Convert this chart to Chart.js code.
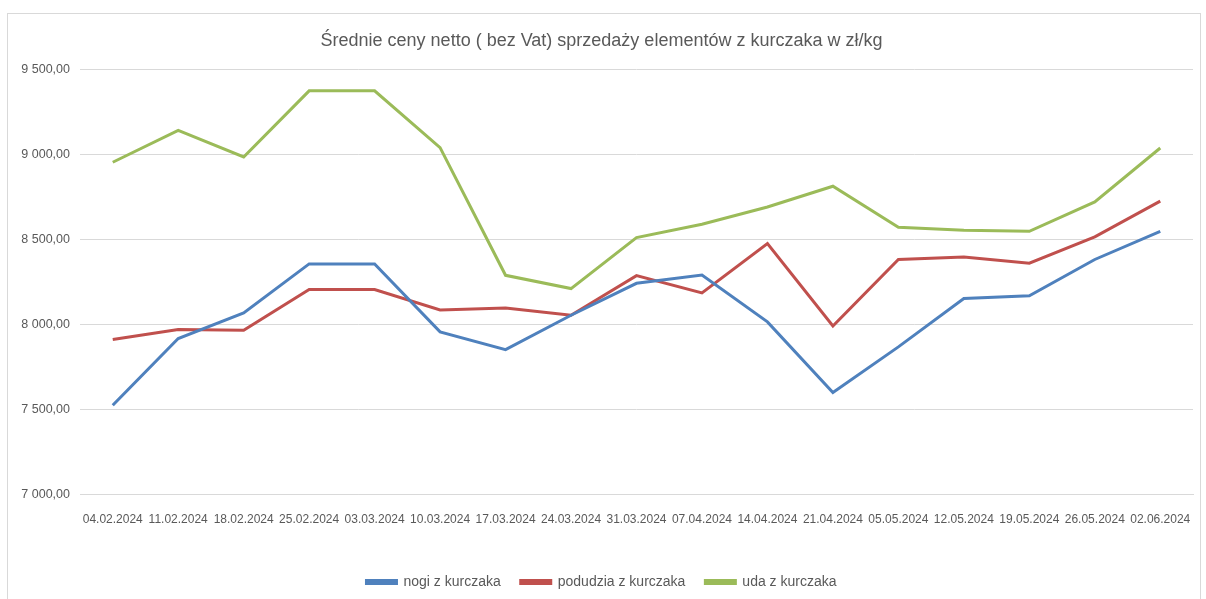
<!DOCTYPE html>
<html>
<head>
<meta charset="utf-8">
<script src="https://cdn.jsdelivr.net/npm/chart.js@4"></script>
<style>
  html, body { margin: 0; padding: 0; background: #fff; overflow: hidden; }
  #ramka { position: absolute; left: 7px; top: 13px; width: 1192px; height: 620px; border: 1px solid #d9d9d9; }
  #wykres { position: absolute; left: 0; top: 0; }
</style>
</head>
<body>
<div id="ramka"></div>
<canvas id="wykres" width="1206" height="599"></canvas>
<script>
// Daty notowań
const daty = ['04.02.2024', '11.02.2024', '18.02.2024', '25.02.2024', '03.03.2024', '10.03.2024',
  '17.03.2024', '24.03.2024', '31.03.2024', '07.04.2024', '14.04.2024', '21.04.2024',
  '05.05.2024', '12.05.2024', '19.05.2024', '26.05.2024', '02.06.2024'];

// Ceny w zł/kg
const nogi = [7526, 7918, 8069, 8357, 8357, 7957, 7853, 8055, 8243, 8292, 8016, 7600, 7869, 8153, 8169, 8383, 8549];
const podudzia = [7912, 7971, 7967, 8206, 8206, 8086, 8098, 8055, 8288, 8186, 8477, 7992, 8383, 8398, 8361, 8516, 8726];
const uda = [8955, 9143, 8986, 9375, 9375, 9041, 8290, 8212, 8512, 8590, 8692, 8814, 8573, 8555, 8549, 8722, 9039];

const nazwySerii = ['nogi z kurczaka', 'podudzia z kurczaka', 'uda z kurczaka'];
const kolory = ['#4f81bd', '#c0504d', '#9bbb59'];

const szary = '#595959';
const czcionka = "'Liberation Sans', Arial, sans-serif";

// format "9 500,00"
function formatZl(v) {
    const tys = Math.floor(v / 1000);
    const reszta = String(v % 1000).padStart(3, '0');
    return (tys > 0 ? tys + ' ' + reszta : String(v)) + ',00';
}

const serie = [nogi, podudzia, uda].map((dane, i) => ({
    label: nazwySerii[i],
    data: dane,
    borderColor: kolory[i],
    backgroundColor: kolory[i],
    borderWidth: 3,
    pointRadius: 0,
    tension: 0
}));

new Chart(document.getElementById('wykres'), {
    type: 'line',
    data: { labels: daty, datasets: serie },
    options: {
        responsive: false,
        animation: false,
        layout: { padding: { left: 10, right: 13, top: 0, bottom: 0 } },
        plugins: {
            title: {
                display: true,
                text: 'Średnie ceny netto ( bez Vat) sprzedaży elementów z kurczaka w zł/kg',
                color: szary,
                font: { family: czcionka, size: 18, weight: 'normal' },
                padding: { top: 30, bottom: 18 }
            },
            legend: {
                position: 'bottom',
                labels: {
                    color: szary,
                    font: { family: czcionka, size: 14 },
                    boxWidth: 30,
                    boxHeight: 3,
                    padding: 20
                }
            },
            tooltip: { enabled: false }
        },
        scales: {
            x: {
                offset: true,
                grid: { display: false },
                border: { color: '#d9d9d9' },
                ticks: {
                    color: szary,
                    font: { family: czcionka, size: 12 },
                    maxRotation: 0,
                    autoSkip: false,
                    padding: 10
                },
                afterFit: scale => { scale.height += 18; }
            },
            y: {
                min: 7000,
                max: 9500,
                grid: { color: '#d9d9d9', drawTicks: false },
                border: { display: false },
                ticks: {
                    stepSize: 500,
                    color: szary,
                    font: { family: czcionka, size: 12.5 },
                    padding: 10,
                    callback: v => formatZl(v)
                },
                afterFit: scale => { scale.width = 70; }
            }
        }
    }
});
</script>
</body>
</html>
